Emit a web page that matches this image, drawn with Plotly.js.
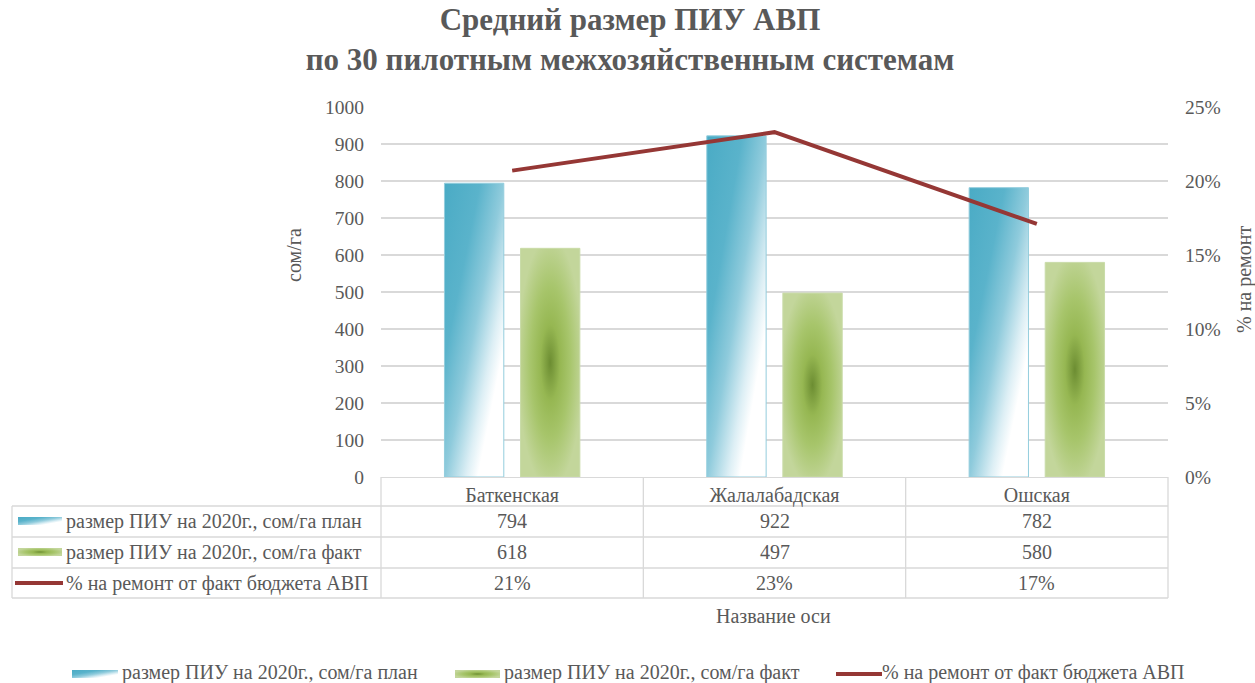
<!DOCTYPE html>
<html>
<head>
<meta charset="utf-8">
<script src="https://cdn.plot.ly/plotly-3.0.1.min.js"></script>
<style>
html,body{margin:0;padding:0;background:#ffffff;}
#chart{width:1255px;height:683px;}
</style>
</head>
<body>
<div id="chart"></div>
<script>
// ---- data ----
const categories = ['Баткенская', 'Жалалабадская', 'Ошская'];
const planValues = [794, 922, 782];
const factValues = [618, 497, 580];
const repairShare = [0.207, 0.233, 0.171];
const seriesNames = [
  'размер ПИУ на 2020г., сом/га план',
  'размер ПИУ на 2020г., сом/га факт',
  '% на ремонт от факт бюджета АВП'
];
const chartTitle = 'Средний размер ПИУ АВП<br>по 30 пилотным межхозяйственным системам';
const yTitleLeft = 'сом/га';
const yTitleRight = '% на ремонт';
const xTitle = 'Название оси';

// ---- layout helpers (pixel -> paper) ----
const PL = 381, PR = 1168, PT = 107, PB = 477;
const px = X => (X - PL) / (PR - PL);
const py = Y => (PB - Y) / (PB - PT);

const FONTFAM = 'Liberation Serif';
const TXT = '#595959';
const GRID = '#D9D9D9';
const LINEC = '#953735';
const TS = 20;     // text size
const TICKS = 19.5; // tick label size

const traces = [
  {type:'bar', name:seriesNames[0], x:categories, y:planValues,
   marker:{color:'#4BACC6', line:{color:'#93CDDD', width:1}}},
  {type:'bar', name:seriesNames[1], x:categories, y:factValues,
   marker:{color:'#9BBB59', line:{color:'#C9DBA8', width:1}}},
  {type:'scatter', mode:'lines', name:seriesNames[2], x:categories, y:repairShare, yaxis:'y2',
   line:{color:LINEC, width:4}}
];

const shapes = [];
const annotations = [];
const lineStyle = {color:GRID, width:1.3};

// table horizontal lines
[506, 537, 568, 598].forEach(Y => shapes.push({type:'line', xref:'paper', yref:'paper',
  x0:px(12), x1:1, y0:py(Y), y1:py(Y), line:lineStyle, layer:'below'}));
// table vertical lines
shapes.push({type:'line', xref:'paper', yref:'paper', x0:px(12), x1:px(12), y0:py(506), y1:py(598), line:lineStyle, layer:'below'});
shapes.push({type:'line', xref:'paper', yref:'paper', x0:0, x1:0, y0:0, y1:py(598), line:lineStyle, layer:'below'});
shapes.push({type:'line', xref:'paper', yref:'paper', x0:1, x1:1, y0:0, y1:py(598), line:lineStyle, layer:'below'});
for (let i = 1; i < categories.length; i++) {
  shapes.push({type:'line', xref:'paper', yref:'paper', x0:i/categories.length, x1:i/categories.length,
    y0:0, y1:py(598), line:lineStyle, layer:'below'});
}

// keys (index recorded for gradient injection)
const gradKeys = [];
function keyRect(x0, x1, yc, kind) {
  gradKeys.push({index: shapes.length, kind: kind});
  shapes.push({type:'rect', xref:'paper', yref:'paper', x0:px(x0), x1:px(x1), y0:py(yc+4), y1:py(yc-4),
    fillcolor: kind === 'plan' ? '#4BACC6' : '#9BBB59', line:{width:0}});
}
function keyLine(x0, x1, yc) {
  shapes.push({type:'line', xref:'paper', yref:'paper', x0:px(x0), x1:px(x1), y0:py(yc), y1:py(yc),
    line:{color:LINEC, width:4}});
}

// table row headers
const rowY = [521, 552, 583];
keyRect(18, 62, rowY[0], 'plan');
keyRect(18, 62, rowY[1], 'fact');
keyLine(15, 63, rowY[2]);
seriesNames.forEach((n, k) => annotations.push({xref:'paper', yref:'paper', x:px(64), y:py(rowY[k]),
  xanchor:'left', yanchor:'middle', text:n, showarrow:false, font:{family:FONTFAM, size:TS, color:TXT}}));

// table values
const rows = [
  planValues.map(v => String(v)),
  factValues.map(v => String(v)),
  repairShare.map(v => Math.round(v * 100) + '%')
];
rows.forEach((r, k) => r.forEach((t, i) => annotations.push({xref:'x', yref:'paper', x:categories[i], y:py(rowY[k]),
  xanchor:'center', yanchor:'middle', text:t, showarrow:false, font:{family:FONTFAM, size:TS, color:TXT}})));

// axis titles
annotations.push({xref:'paper', yref:'paper', x:px(773), y:py(616), xanchor:'center', yanchor:'middle',
  text:xTitle, showarrow:false, font:{family:FONTFAM, size:TS, color:TXT}});
annotations.push({xref:'paper', yref:'paper', x:px(294), y:py(255), xanchor:'center', yanchor:'middle',
  text:yTitleLeft, textangle:-90, showarrow:false, font:{family:FONTFAM, size:TS, color:TXT}});
annotations.push({xref:'paper', yref:'paper', x:px(1244), y:py(280), xanchor:'center', yanchor:'middle',
  text:yTitleRight, textangle:-90, showarrow:false, font:{family:FONTFAM, size:TS, color:TXT}});

// bottom legend
const LY = 672;
keyRect(72, 118, LY + 2, 'plan');
annotations.push({xref:'paper', yref:'paper', x:px(120), y:py(LY), xanchor:'left', yanchor:'middle',
  text:seriesNames[0], showarrow:false, font:{family:FONTFAM, size:TS, color:TXT}});
keyRect(455, 500, LY + 2, 'fact');
annotations.push({xref:'paper', yref:'paper', x:px(502), y:py(LY), xanchor:'left', yanchor:'middle',
  text:seriesNames[1], showarrow:false, font:{family:FONTFAM, size:TS, color:TXT}});
keyLine(836, 882, LY + 2);
annotations.push({xref:'paper', yref:'paper', x:px(880), y:py(LY), xanchor:'left', yanchor:'middle',
  text:seriesNames[2], showarrow:false, font:{family:FONTFAM, size:TS, color:TXT}});

const layout = {
  width:1255, height:683,
  margin:{l:PL, r:1255-PR, t:PT, b:683-PB, pad:0},
  paper_bgcolor:'#ffffff', plot_bgcolor:'#ffffff',
  font:{family:FONTFAM, size:TS, color:TXT},
  title:{text:chartTitle, font:{family:FONTFAM, size:31, color:TXT, weight:'bold'},
    x:0.502, xanchor:'center', xref:'container', y:1 - 30/683, yanchor:'top', yref:'container'},
  showlegend:false,
  barmode:'group', bargap:0.42, bargroupgap:0.22,
  xaxis:{type:'category', showgrid:false, showline:true, linecolor:GRID, linewidth:1.3, ticks:'',
    tickfont:{family:FONTFAM, size:TS, color:TXT}, zeroline:false, fixedrange:true},
  yaxis:{range:[0,1000], dtick:100, showgrid:true, gridcolor:GRID, gridwidth:1.3, zeroline:false,
    showline:false, ticks:'', ticklabelstandoff:16, tickfont:{family:FONTFAM, size:TICKS, color:TXT}, fixedrange:true},
  yaxis2:{overlaying:'y', side:'right', range:[0,0.25], dtick:0.05, tickformat:'.0%', showgrid:false,
    zeroline:false, showline:false, ticks:'', ticklabelstandoff:16, tickfont:{family:FONTFAM, size:TICKS, color:TXT}, fixedrange:true},
  shapes:shapes,
  annotations:annotations
};

const gd = document.getElementById('chart');
Plotly.newPlot(gd, traces, layout, {displayModeBar:false, staticPlot:true}).then(() => {
  const NS = 'http://www.w3.org/2000/svg';
  const svg = gd.querySelector('svg.main-svg');
  let defs = svg.querySelector('defs');
  if (!defs) { defs = document.createElementNS(NS, 'defs'); svg.insertBefore(defs, svg.firstChild); }
  function addStops(g, stops) {
    stops.forEach(s => { const st = document.createElementNS(NS, 'stop');
      st.setAttribute('offset', s[0]); st.setAttribute('stop-color', s[1]); g.appendChild(st); });
  }
  const gp = document.createElementNS(NS, 'linearGradient');
  gp.setAttribute('id', 'gradPlan');
  gp.setAttribute('x1', '0'); gp.setAttribute('y1', '0'); gp.setAttribute('x2', '1'); gp.setAttribute('y2', '1');
  addStops(gp, [[0,'#4AABC5'],[0.3,'#5AB3CB'],[0.5,'#8FCBDC'],[0.68,'#DDEFF5'],[0.78,'#FFFFFF'],[1,'#FFFFFF']]);
  defs.appendChild(gp);
  const gf = document.createElementNS(NS, 'radialGradient');
  gf.setAttribute('id', 'gradFact');
  gf.setAttribute('cx', '0.5'); gf.setAttribute('cy', '0.5'); gf.setAttribute('r', '0.55');
  addStops(gf, [[0,'#6C8D32'],[0.3,'#96B752'],[0.6,'#A7C56B'],[1,'#C3D69B']]);
  defs.appendChild(gf);

  const barTraces = gd.querySelectorAll('.barlayer .trace');
  if (barTraces[0]) barTraces[0].querySelectorAll('path').forEach(p => p.style.fill = 'url(#gradPlan)');
  if (barTraces[1]) barTraces[1].querySelectorAll('path').forEach(p => p.style.fill = 'url(#gradFact)');
  gradKeys.forEach(k => {
    gd.querySelectorAll('.shapelayer path[data-index="' + k.index + '"]').forEach(p => {
      p.style.fill = k.kind === 'plan' ? 'url(#gradPlan)' : 'url(#gradFact)';
      p.style.fillOpacity = 1;
    });
  });
});
</script>
</body>
</html>
